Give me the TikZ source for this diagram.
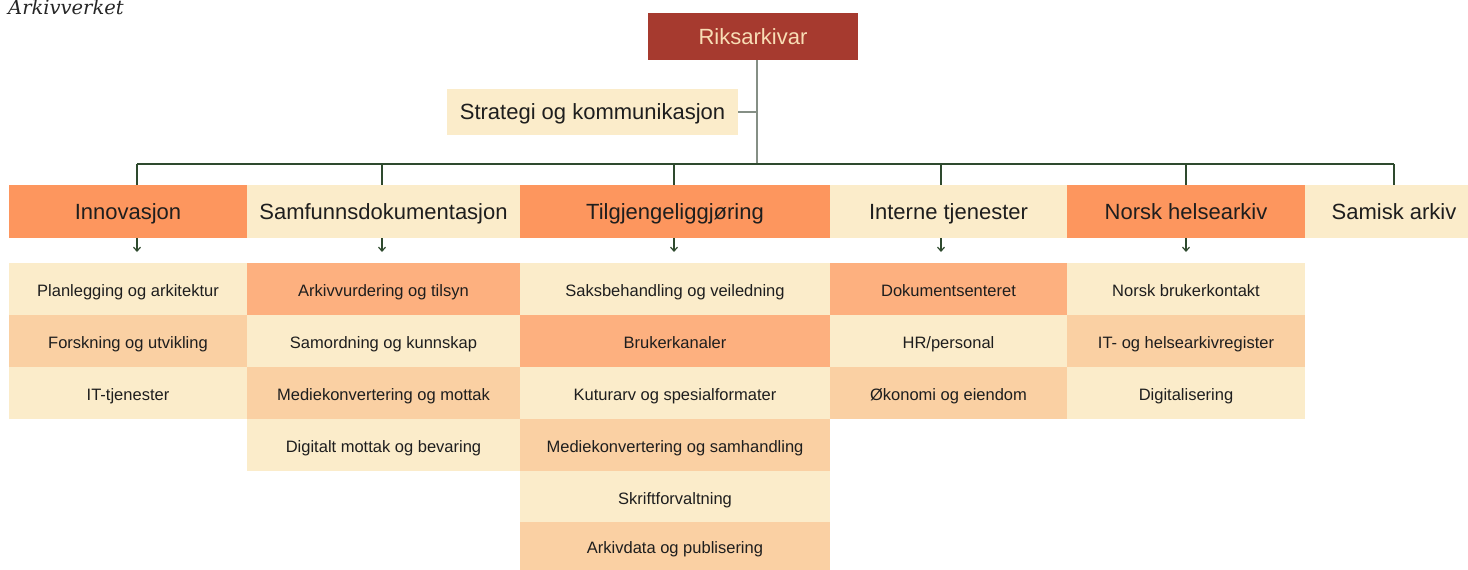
\documentclass[tikz,border=0pt]{standalone}
\usepackage{fontspec}
\setmainfont{Liberation Sans}
\newfontfamily\titlefont{DejaVu Serif}
\usetikzlibrary{arrows.meta}
\definecolor{riks}{HTML}{A63A2F}
\definecolor{rikstext}{HTML}{F8DDB5}
\definecolor{cream}{HTML}{FBECCA}
\definecolor{orange}{HTML}{FD965E}
\definecolor{medorange}{HTML}{FDB07F}
\definecolor{lightorange}{HTML}{FAD0A3}
\definecolor{busline}{HTML}{2E4A2E}
\definecolor{grayline}{HTML}{858F85}
\definecolor{txt}{HTML}{1E1E1E}
\tikzset{
  box/.style={rectangle, inner sep=0pt, outer sep=0pt, draw=none, text=txt},
  bigtext/.style={font=\fontsize{22}{25}\selectfont, text height=15.8pt, text depth=0pt},
  headbox/.style={box, bigtext, minimum height=53pt},
  subbox/.style={box, font=\fontsize{16.5}{19}\selectfont, text height=15.8pt, text depth=0pt},
  busline/.style={draw=busline, line width=1.3pt},
  grayconn/.style={draw=grayline, line width=1.8pt},
  arr/.style={draw=busline, line width=1.2pt, -{Straight Barb[length=4pt,width=7pt]}}
}
\begin{document}
\begin{tikzpicture}[x=1pt,y=-1pt]
\useasboundingbox (0,0) rectangle (1468,570);
% title
\node[anchor=base west, inner sep=0pt, text=black!85, font=\titlefont\itshape\fontsize{19.5}{21}\selectfont] (title) at (8,14) {Arkivverket};
% top
\node[box, bigtext, fill=riks, text=rikstext, minimum width=210pt, minimum height=47pt] (riks) at (753,36.5) {Riksarkivar};
\node[box, bigtext, fill=cream, minimum width=291pt, minimum height=46pt] (strat) at (592.5,112) {Strategi og kommunikasjon};
% headers
\node[headbox, fill=orange, minimum width=238pt] (h1) at (128,211.5) {Innovasjon};
\node[headbox, fill=cream, minimum width=273pt] (h2) at (383.5,211.5) {Samfunnsdokumentasjon};
\node[headbox, fill=orange, minimum width=310pt] (h3) at (675,211.5) {Tilgjengeliggjøring};
\node[headbox, fill=cream, minimum width=237pt] (h4) at (948.5,211.5) {Interne tjenester};
\node[headbox, fill=orange, minimum width=238pt] (h5) at (1186,211.5) {Norsk helsearkiv};
\node[headbox, fill=cream, minimum width=178pt] (h6) at (1394,211.5) {Samisk arkiv};
% column 1
\node[subbox, fill=cream, minimum width=238pt, minimum height=52pt] (c1a) at (128,289) {Planlegging og arkitektur};
\node[subbox, fill=lightorange, minimum width=238pt, minimum height=52pt] (c1b) at (128,341) {Forskning og utvikling};
\node[subbox, fill=cream, minimum width=238pt, minimum height=52pt] (c1c) at (128,393) {IT-tjenester};
% column 2
\node[subbox, fill=medorange, minimum width=273pt, minimum height=52pt] (c2a) at (383.5,289) {Arkivvurdering og tilsyn};
\node[subbox, fill=cream, minimum width=273pt, minimum height=52pt] (c2b) at (383.5,341) {Samordning og kunnskap};
\node[subbox, fill=lightorange, minimum width=273pt, minimum height=52pt] (c2c) at (383.5,393) {Mediekonvertering og mottak};
\node[subbox, fill=cream, minimum width=273pt, minimum height=52pt] (c2d) at (383.5,445) {Digitalt mottak og bevaring};
% column 3
\node[subbox, fill=cream, minimum width=310pt, minimum height=52pt] (c3a) at (675,289) {Saksbehandling og veiledning};
\node[subbox, fill=medorange, minimum width=310pt, minimum height=52pt] (c3b) at (675,341) {Brukerkanaler};
\node[subbox, fill=cream, minimum width=310pt, minimum height=52pt] (c3c) at (675,393) {Kuturarv og spesialformater};
\node[subbox, fill=lightorange, minimum width=310pt, minimum height=52pt] (c3d) at (675,445) {Mediekonvertering og samhandling};
\node[subbox, fill=cream, minimum width=310pt, minimum height=51pt] (c3e) at (675,496.5) {Skriftforvaltning};
\node[subbox, fill=lightorange, minimum width=310pt, minimum height=48pt] (c3f) at (675,546) {Arkivdata og publisering};
% column 4
\node[subbox, fill=medorange, minimum width=237pt, minimum height=52pt] (c4a) at (948.5,289) {Dokumentsenteret};
\node[subbox, fill=cream, minimum width=237pt, minimum height=52pt] (c4b) at (948.5,341) {HR/personal};
\node[subbox, fill=lightorange, minimum width=237pt, minimum height=52pt] (c4c) at (948.5,393) {Økonomi og eiendom};
% column 5
\node[subbox, fill=cream, minimum width=238pt, minimum height=52pt] (c5a) at (1186,289) {Norsk brukerkontakt};
\node[subbox, fill=lightorange, minimum width=238pt, minimum height=52pt] (c5b) at (1186,341) {IT- og helsearkivregister};
\node[subbox, fill=cream, minimum width=238pt, minimum height=52pt] (c5c) at (1186,393) {Digitalisering};
% connector coordinates
\coordinate (v) at (757,164);
\coordinate (d1) at (137,164);
\coordinate (d2) at (382,164);
\coordinate (d3) at (674,164);
\coordinate (d4) at (941,164);
\coordinate (d5) at (1186,164);
\coordinate (d6) at (1394,164);
\coordinate (a1) at (137,252);
\coordinate (a2) at (382,252);
\coordinate (a3) at (674,252);
\coordinate (a4) at (941,252);
\coordinate (a5) at (1186,252);
% connectors
\draw[grayconn] (riks.south -| v) -- (v);
\draw[grayconn] (strat.east) -- (strat.east -| v);
\draw[busline] (d1) -- (d6);
\draw[busline] (d1) -- (h1.north -| d1);
\draw[busline] (d2) -- (h2.north -| d2);
\draw[busline] (d3) -- (h3.north -| d3);
\draw[busline] (d4) -- (h4.north -| d4);
\draw[busline] (d5) -- (h5.north -| d5);
\draw[busline] (d6) -- (h6.north -| d6);
\draw[arr] (h1.south -| a1) -- (a1);
\draw[arr] (h2.south -| a2) -- (a2);
\draw[arr] (h3.south -| a3) -- (a3);
\draw[arr] (h4.south -| a4) -- (a4);
\draw[arr] (h5.south -| a5) -- (a5);
\end{tikzpicture}
\end{document}
